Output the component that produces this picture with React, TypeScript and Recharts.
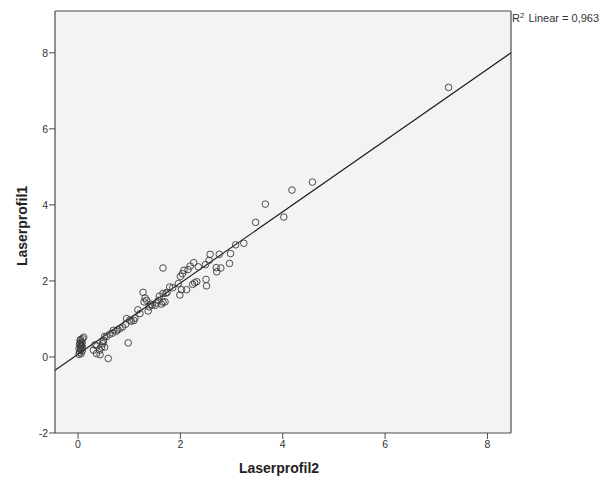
import { ScatterChart, Scatter, XAxis, YAxis, CartesianGrid, ReferenceLine, Customized } from 'recharts'

// Laserprofil2 (x) and Laserprofil1 (y)
const laserprofil2 = [
  0.02, 0.03, 0.06, 0.08, 0.05, 0.02, 0.05, 0.07, 0.03, 0.08, 0.06, 0.04, 0.05, 0.09, 0.11, 0.06, 0.09, 0.04,
  0.30, 0.33, 0.37, 0.36, 0.42, 0.43, 0.46, 0.48, 0.50, 0.52, 0.56, 0.59, 0.52, 0.49,
  0.62, 0.68, 0.69, 0.75, 0.78, 0.82, 0.87, 0.93, 0.95, 0.98, 1.01, 1.04, 1.09, 1.11,
  1.17, 1.21, 1.27, 1.29, 1.31, 1.34, 1.37, 1.39, 1.42, 1.45, 1.51, 1.53, 1.57, 1.59, 1.63, 1.66, 1.66, 1.66, 1.70, 1.74, 1.79, 1.72,
  1.85, 1.96, 1.99, 2.00, 2.02, 2.04, 2.07, 2.12, 2.15, 2.19, 2.24, 2.26, 2.28, 2.32, 2.35, 2.49, 2.50, 2.51, 2.56, 2.58,
  2.70, 2.71, 2.76, 2.79, 2.96, 2.98, 3.08, 3.24, 3.47, 3.66, 4.02, 4.18, 4.58, 7.24,
]
const laserprofil1 = [
  0.07, 0.13, 0.09, 0.16, 0.19, 0.22, 0.26, 0.29, 0.33, 0.37, 0.39, 0.43, 0.46, 0.48, 0.52, 0.31, 0.24, 0.35,
  0.18, 0.32, 0.29, 0.09, 0.18, 0.06, 0.26, 0.35, 0.44, 0.54, 0.54, -0.04, 0.26, 0.40,
  0.60, 0.63, 0.70, 0.68, 0.72, 0.75, 0.79, 0.86, 1.01, 0.37, 0.97, 0.94, 0.96, 1.02,
  1.24, 1.14, 1.70, 1.45, 1.55, 1.49, 1.21, 1.32, 1.39, 1.37, 1.36, 1.42, 1.49, 1.60, 1.39, 1.67, 1.44, 2.34, 1.45, 1.70, 1.84, 1.68,
  1.82, 1.93, 1.63, 2.12, 1.77, 2.19, 2.28, 1.77, 2.30, 2.39, 1.91, 2.48, 1.95, 1.98, 2.37, 2.43, 2.04, 1.87, 2.54, 2.70,
  2.35, 2.24, 2.70, 2.34, 2.46, 2.72, 2.95, 2.99, 3.54, 4.02, 3.68, 4.39, 4.60, 7.09,
]

const xTicks = [0, 2, 4, 6, 8]
const yTicks = [-2, 0, 2, 4, 6, 8]
const xDomain = [-0.45, 8.46]
const yDomain = [-2, 9.1]

// fit line end points at the frame edges
const fitLine = [
  { x: -0.45, y: -0.35 },
  { x: 8.46, y: 8.0 },
]

const points = laserprofil2.map((x, i) => ({ x, y: laserprofil1[i] }))

const FONT = '"Liberation Sans", Arial, sans-serif'
const FRAME = '#4a4a4a'

const Ring = (props: any) => (
  <circle cx={props.cx} cy={props.cy} r={3.3} fill="none" stroke="#3a3a3a" strokeWidth={0.9} />
)

const Titles = () => (
  <g fontFamily={FONT}>
    <text x={512} y={21.5} fontSize={11} fill="#333">
      <tspan fill="#333">R</tspan>
      <tspan dy={-4} fontSize={8} fill="#333">2</tspan>
      <tspan dy={4} dx={4} fill="#333">Linear = 0,963</tspan>
    </text>
    <text x={279} y={473} fontSize={14} fontWeight="bold" textAnchor="middle" fill="#222">Laserprofil2</text>
    <text x={27} y={226} fontSize={14} fontWeight="bold" textAnchor="middle" fill="#222" transform="rotate(-90 27 226)">
      Laserprofil1
    </text>
  </g>
)

export default function App() {
  return (
    <div style={{ position: 'absolute', left: 0, top: 0, background: '#fff' }}>
      <ScatterChart width={611} height={480} margin={{ top: 11, right: 100, bottom: 0, left: 0 }}>
        <CartesianGrid fill="#f3f3f3" horizontal={false} vertical={false} />
        <XAxis
          type="number" dataKey="x" domain={xDomain} ticks={xTicks} allowDataOverflow
          height={47} tickSize={6} tickMargin={2}
          axisLine={{ stroke: FRAME, strokeWidth: 1.2 }} tickLine={{ stroke: FRAME }}
          tick={{ fill: '#333', fontSize: 10.5, fontFamily: FONT }}
        />
        <YAxis
          type="number" dataKey="y" domain={yDomain} ticks={yTicks} allowDataOverflow
          width={55} tickSize={6} tickMargin={1}
          axisLine={{ stroke: FRAME, strokeWidth: 1.2 }} tickLine={{ stroke: FRAME }}
          tick={{ fill: '#333', fontSize: 10.5, fontFamily: FONT }}
        />
        <ReferenceLine y={9.1} stroke={FRAME} strokeWidth={1.2} />
        <ReferenceLine x={8.46} stroke={FRAME} strokeWidth={1.2} />
        <ReferenceLine segment={fitLine} stroke="#1a1a1a" strokeWidth={1.1} />
        <Scatter data={points} shape={<Ring />} isAnimationActive={false} />
        <Customized component={<Titles />} />
      </ScatterChart>
    </div>
  )
}
